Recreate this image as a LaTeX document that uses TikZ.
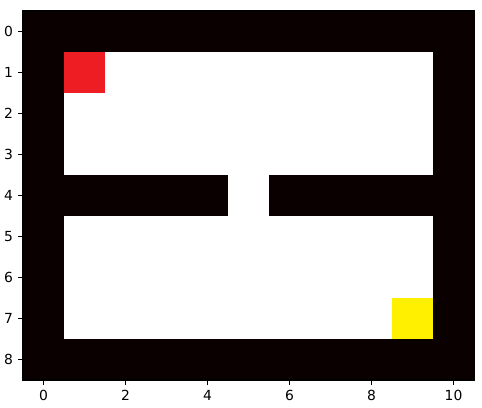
\documentclass[tikz,border=0pt]{standalone}
\usepackage{fontspec}
\setmainfont{DejaVu Sans}
\definecolor{wall-dark}{HTML}{0B0000}
\definecolor{start-red}{HTML}{EE1D23}
\definecolor{goal-yellow}{HTML}{FFF000}
\tikzset{
  tick/.style={line width=0.8pt, black},
  ticklabel/.style={font=\fontsize{10pt}{12pt}\selectfont, inner sep=0pt}
}
\begin{document}
\begin{tikzpicture}[x=29.52pt, y=-29.52pt]
    \useasboundingbox (-1.061,-0.768) rectangle (10.695,9.159);
    % maze cells
    \fill[wall-dark] (-0.5,-0.5) rectangle (10.5,8.5);
    \fill[white] (0.5,0.5) rectangle (9.5,3.5);
    \fill[white] (0.5,4.5) rectangle (9.5,7.5);
    \fill[white] (4.5,3.5) rectangle (5.5,4.5);
    \fill[start-red] (0.5,0.5) rectangle (1.5,1.5);
    \fill[goal-yellow] (8.5,6.5) rectangle (9.5,7.5);
    \draw[line width=0.8pt, black] (-0.5,-0.5) rectangle (10.5,8.5);
    % ticks
    \foreach \c in {0,2,...,10} {
      \draw[tick] (\c,8.5) -- ++(0,-3.5pt);
      \node[ticklabel, anchor=north] (xt\c) at ([yshift=-7pt]\c,8.5) {\c};
    }
    \foreach \r in {0,...,8} {
      \draw[tick] (-0.5,\r) -- ++(-3.5pt,0);
      \node[ticklabel, anchor=east] (yt\r) at ([xshift=-7pt]-0.5,\r) {\r};
    }
  \end{tikzpicture}
\end{document}
